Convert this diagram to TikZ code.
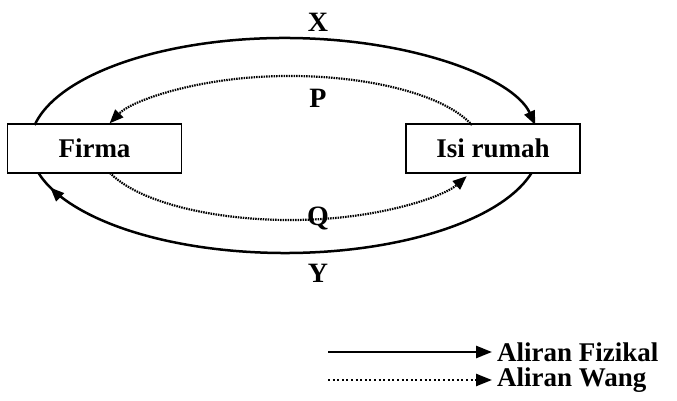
\documentclass[tikz,border=0pt]{standalone}
\usepackage{fontspec}
\setmainfont{Liberation Serif}
\usepackage{tikz}
\usetikzlibrary{arrows.meta}
\usetikzlibrary{decorations.markings}

\tikzset{
    kotak/.style={draw,line width=1.8pt,fill=white,minimum width=174pt,minimum height=49pt,inner sep=0pt,font=\fontsize{27}{30}\selectfont\bfseries},
    huruf/.style={font=\fontsize{28}{30}\selectfont\bfseries,inner sep=1pt},
    fizikal/.style={line width=2.5pt},
    wang/.style={line width=2.2pt,dash pattern=on 1.5pt off 1pt},
    tipdi/.style={postaction={decorate},decoration={markings,mark=at position #1 with {\arrow{>}}}}
}

\begin{document}
\begin{tikzpicture}[x=1pt,y=1pt,>={Triangle[length=14pt,width=11pt]}]
        \useasboundingbox (0,0) rectangle (677,401);
        \node[kotak] (firma) at (94.5,252.5) {Firma};
        \node[kotak] (rumah) at (493,252.5) {Isi rumah};
        \coordinate (luar) at (285,255.5);
        \coordinate (dalam) at (290,253);
        % aliran fizikal (X dan Y)
        \draw[fizikal,->] (luar) ++(169:255 and 107.5) arc[start angle=169,end angle=11,x radius=255,y radius=107.5];
        \draw[fizikal,tipdi=0.965] (luar) ++(-14.8:255 and 107.5) arc[start angle=-14.8,end angle=-165.2,x radius=255,y radius=107.5];
        % aliran wang (P dan Q)
        \draw[wang,->] (dalam) ++(18.6:192 and 72) arc[start angle=18.6,end angle=160,x radius=192,y radius=72];
        \draw[wang,->] (dalam) ++(200.3:192 and 72) arc[start angle=200.3,end angle=337,x radius=192,y radius=72];
        \node[huruf] (x) at (318,379) {X};
        \node[huruf] (p) at (318,303) {P};
        \node[huruf] (q) at (318,182) {Q};
        \node[huruf] (y) at (318,128) {Y};
        % petunjuk
        \node[huruf,anchor=west,inner sep=5pt,font=\fontsize{27}{30}\selectfont\bfseries] (fz) at (492,49) {Aliran Fizikal};
        \node[huruf,anchor=west,inner sep=5pt,font=\fontsize{27}{30}\selectfont\bfseries] (wg) at (492,21) {Aliran Wang};
        \coordinate (fz0) at (328,49);
        \coordinate (wg0) at (328,21);
        \draw[fizikal,-{Triangle[length=16pt,width=12pt]}] (fz0) -- (fz.west);
        \draw[line width=2.4pt,dash pattern=on 2pt off 2.6pt,-{Triangle[length=16pt,width=12pt]}] (wg0) -- (wg.west);
    \end{tikzpicture}
\end{document}
